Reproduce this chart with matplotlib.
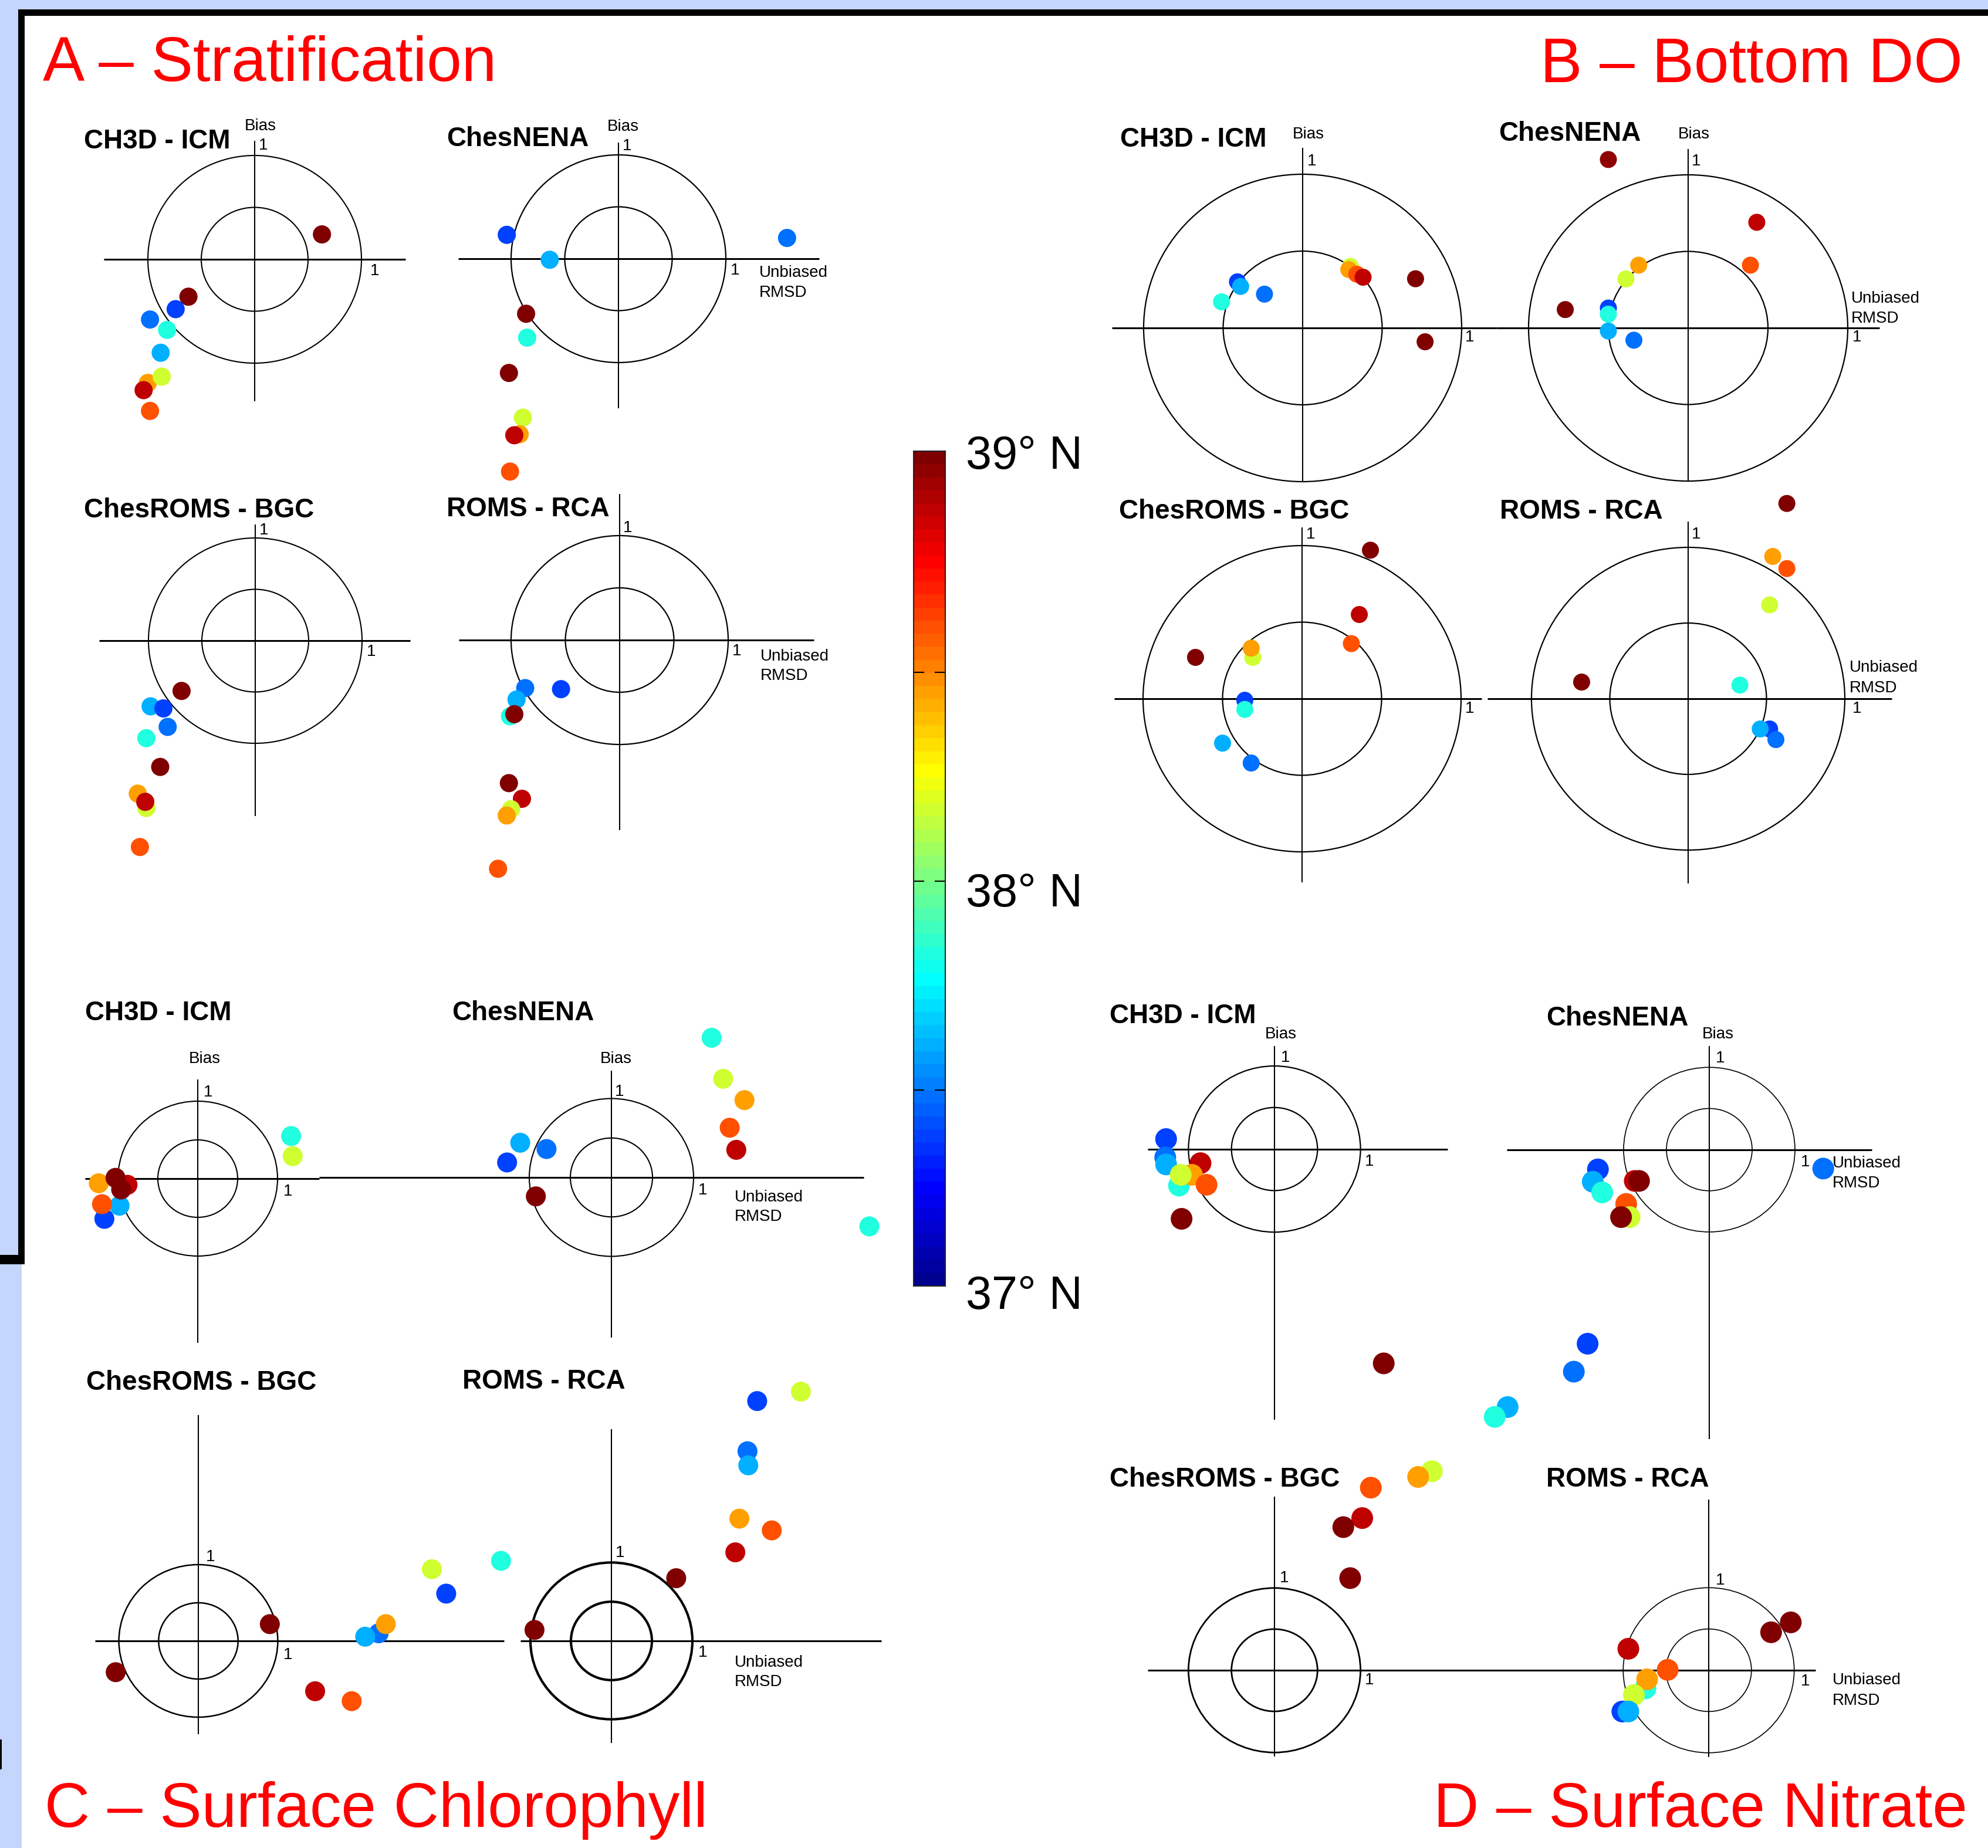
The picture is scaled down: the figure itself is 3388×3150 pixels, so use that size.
import numpy as np
import matplotlib
matplotlib.use('Agg')
import matplotlib.pyplot as plt
from matplotlib.colors import ListedColormap
from matplotlib.patches import Rectangle, Circle

W, H = 3388, 3150
plt.rcParams['font.family'] = ['Liberation Sans', 'DejaVu Sans']

# ---------------- data (target-diagram coordinates, colour = station latitude) -------------
# A - Stratification
strat_ch3d_x = [0.63, -0.62, -0.74, -0.98, -0.82, -0.88, -1.00, -0.87, -1.04, -0.98]
strat_ch3d_y = [0.24, -0.36, -0.48, -0.58, -0.68, -0.90, -1.19, -1.13, -1.26, -1.46]
strat_ch3d_lat = [38.99, 38.99, 37.36, 37.45, 37.80, 37.58, 38.42, 38.14, 38.86, 38.58]

strat_nena_x = [-1.04, 1.57, -0.64, -0.86, -0.85, -1.02, -0.89, -0.92, -0.97, -1.01]
strat_nena_y = [0.23, 0.20, -0.01, -0.53, -0.76, -1.10, -1.53, -1.69, -1.70, -2.05]
strat_nena_lat = [37.36, 37.45, 37.58, 38.99, 37.80, 38.99, 38.14, 38.42, 38.86, 38.58]

strat_croms_x = [-0.69, -0.98, -0.86, -0.82, -1.02, -0.89, -1.10, -1.02, -1.03, -1.08]
strat_croms_y = [-0.49, -0.64, -0.66, -0.84, -0.95, -1.23, -1.49, -1.63, -1.57, -2.01]
strat_croms_lat = [38.99, 37.58, 37.36, 37.45, 37.80, 38.99, 38.42, 38.14, 38.86, 38.58]

strat_rca_x = [-0.87, -0.54, -0.95, -1.01, -0.97, -1.02, -0.90, -1.00, -1.04, -1.12]
strat_rca_y = [-0.46, -0.47, -0.57, -0.73, -0.71, -1.37, -1.52, -1.62, -1.68, -2.19]
strat_rca_lat = [37.45, 37.36, 37.58, 37.80, 38.99, 38.99, 38.86, 38.14, 38.42, 38.58]

# B - Bottom DO
do_ch3d_x = [-0.41, -0.39, -0.24, -0.51, 0.30, 0.29, 0.34, 0.38, 0.71, 0.77]
do_ch3d_y = [0.30, 0.27, 0.22, 0.17, 0.40, 0.38, 0.35, 0.33, 0.32, -0.09]
do_ch3d_lat = [37.36, 37.58, 37.45, 37.80, 38.14, 38.42, 38.58, 38.86, 38.99, 38.99]

do_nena_x = [-0.50, 0.43, 0.39, -0.31, -0.39, -0.77, -0.50, -0.50, -0.50, -0.34]
do_nena_y = [1.10, 0.69, 0.41, 0.41, 0.32, 0.12, 0.13, 0.09, -0.02, -0.08]
do_nena_lat = [38.95, 38.86, 38.58, 38.42, 38.14, 38.99, 37.36, 37.80, 37.58, 37.45]

do_croms_x = [0.43, 0.36, 0.31, -0.31, -0.32, -0.67, -0.36, -0.36, -0.50, -0.32]
do_croms_y = [0.97, 0.55, 0.36, 0.27, 0.33, 0.27, -0.01, -0.07, -0.29, -0.42]
do_croms_lat = [38.99, 38.86, 38.58, 38.14, 38.42, 38.99, 37.36, 37.80, 37.58, 37.45]

do_rca_x = [0.63, 0.54, 0.63, 0.52, -0.68, 0.33, 0.52, 0.46, 0.56]
do_rca_y = [1.29, 0.94, 0.86, 0.62, 0.11, 0.09, -0.20, -0.20, -0.27]
do_rca_lat = [38.99, 38.42, 38.58, 38.14, 38.99, 37.80, 37.36, 37.58, 37.45]

# C - Surface Chlorophyll
chl_ch3d_x = [1.17, 1.19, -1.17, -0.98, -1.20, -1.24, -0.88, -0.96, -1.03]
chl_ch3d_y = [0.55, 0.29, -0.52, -0.35, -0.33, -0.06, -0.08, -0.14, 0.01]
chl_ch3d_lat = [37.80, 38.14, 37.36, 37.58, 38.58, 38.42, 38.86, 38.99, 38.99]

chl_nena_x = [1.22, 1.36, 1.62, 1.44, 1.52, -1.11, -0.79, -1.27, -0.92, 3.14]
chl_nena_y = [1.77, 1.25, 0.98, 0.63, 0.35, 0.44, 0.36, 0.19, -0.24, -0.62]
chl_nena_lat = [37.80, 38.14, 38.42, 38.58, 38.86, 37.58, 37.45, 37.36, 38.99, 37.80]

chl_croms_x = [0.90, -1.04, 1.47, 1.93, 2.27, 2.10, 2.36, 3.12, 2.94, 3.81]
chl_croms_y = [0.22, -0.41, -0.66, -0.79, 0.10, 0.055, 0.22, 0.62, 0.94, 1.05]
chl_croms_lat = [38.99, 38.99, 38.86, 38.58, 37.45, 37.58, 38.42, 37.36, 38.14, 37.80]

chl_rca_x = [-0.95, 0.80, 1.53, 1.58, 1.98, 1.68, 1.69, 1.80, 2.34]
chl_rca_y = [0.14, 0.80, 1.13, 1.56, 1.41, 2.42, 2.24, 3.06, 3.18]
chl_rca_lat = [38.99, 38.99, 38.86, 38.42, 38.58, 37.45, 37.58, 37.36, 38.14]

# D - Surface Nitrate
no3_ch3d_x = [-1.26, -1.27, -1.26, -1.11, -0.86, -0.96, -1.09, -0.79, -1.08, 1.27]
no3_ch3d_y = [0.12, -0.10, -0.185, -0.44, -0.17, -0.31, -0.31, -0.43, -0.84, -2.58]
no3_ch3d_lat = [37.36, 37.45, 37.58, 37.80, 38.86, 38.42, 38.14, 38.58, 38.99, 38.99]

no3_nena_x = [-1.30, -1.36, -1.25, -0.87, -0.82, -0.97, -0.93, -1.03, 1.33]
no3_nena_y = [-0.24, -0.39, -0.52, -0.38, -0.38, -0.66, -0.82, -0.82, -0.23]
no3_nena_lat = [37.36, 37.58, 37.80, 38.86, 38.99, 38.58, 38.14, 38.99, 37.45]

no3_croms_x = [0.88, 1.02, 0.80, 1.12, 1.83, 1.67, 3.64, 3.48, 2.71, 2.56]
no3_croms_y = [1.12, 1.85, 1.74, 2.22, 2.42, 2.35, 3.97, 3.63, 3.20, 3.08]
no3_croms_lat = [38.99, 38.86, 38.99, 38.58, 38.14, 38.42, 37.36, 37.45, 37.58, 37.80]

no3_rca_x = [0.96, 0.73, -0.94, -0.48, -0.74, -0.72, -0.875, -1.01, -0.94]
no3_rca_y = [0.58, 0.46, 0.26, 0.005, -0.22, -0.11, -0.30, -0.50, -0.50]
no3_rca_lat = [38.99, 38.99, 38.86, 38.58, 37.80, 38.42, 38.14, 37.36, 37.58]

model_names = ['CH3D - ICM', 'ChesNENA', 'ChesROMS - BGC', 'ROMS - RCA']
panel_titles = ['A \u2013 Stratification', 'B \u2013 Bottom DO',
                'C \u2013 Surface Chlorophyll', 'D \u2013 Surface Nitrate']
cbar_labels = ['39\u00b0 N', '38\u00b0 N', '37\u00b0 N']
cbar_ticks = [37.5, 38.0, 38.5]
lat_min, lat_max = 37.0, 39.0


def matlab_jet(m=64):
    n = int(np.ceil(m / 4))
    u = np.concatenate([np.arange(1, n + 1) / n, np.ones(n - 1), np.arange(n, 0, -1) / n])
    g = int(np.ceil(n / 2)) - (1 if m % 4 == 1 else 0) + np.arange(1, len(u) + 1)
    r = g + n
    b = g - n
    J = np.zeros((m, 3))
    for idx, ch in ((r, 0), (g, 1), (b, 2)):
        ok = (idx >= 1) & (idx <= m)
        J[idx[ok] - 1, ch] = u[ok]
    return ListedColormap(J)


jet = matlab_jet(64)

fig = plt.figure(figsize=(W / 100, H / 100), dpi=100)

# ---------------- page background / frame ----------------
bg = fig.add_axes([0, 0, 1, 1])
bg.set_xlim(0, W)
bg.set_ylim(H, 0)
bg.axis('off')
bg.add_patch(Rectangle((0, 0), W, H, color='#c4d6fc', lw=0))
bg.add_patch(Rectangle((37, 27), W - 37, H - 27, color='white', lw=0))
bg.add_patch(Rectangle((31, 16), W - 31, 11, color='black', lw=0))
bg.add_patch(Rectangle((31, 16), 11, 2155 - 16, color='black', lw=0))
bg.add_patch(Rectangle((0, 2139), 42, 16, color='black', lw=0))
bg.add_patch(Rectangle((0, 2965), 3, 51, color='black', lw=0))

# panel titles
red = '#ff0000'
bg.text(73, 138, panel_titles[0], color=red, fontsize=77, ha='left', va='baseline')
bg.text(3345, 140, panel_titles[1], color=red, fontsize=77, ha='right', va='baseline')
bg.text(76, 3114, panel_titles[2], color=red, fontsize=77, ha='left', va='baseline')
bg.text(3353, 3114, panel_titles[3], color=red, fontsize=77, ha='right', va='baseline')

# ---------------- subplot layout (pixels) ----------------
layout = [
    dict(d=(strat_ch3d_x, strat_ch3d_y, strat_ch3d_lat), name=0, c=(434, 442), r=(182, 177),
         h=(-1.41, 1.41), v=(-1.37, 1.14), t=(143, 253), bias=(444, 222), one_t=(441, 255),
         one_r=(631, 469), rmsd=None, ms=31, lwc=1.5),
    dict(d=(strat_nena_x, strat_nena_y, strat_nena_lat), name=1, c=(1054, 441), r=(183, 177),
         h=(-1.49, 1.87), v=(-1.44, 1.12), t=(761, 249), bias=(1062, 223), one_t=(1061, 256),
         one_r=(1245, 468), rmsd=(1294, 472, 506), ms=31, lwc=1.6),
    dict(d=(strat_croms_x, strat_croms_y, strat_croms_lat), name=2, c=(435, 1092), r=(182, 175),
         h=(-1.46, 1.45), v=(-1.71, 1.13), t=(143, 882), bias=None, one_t=(442, 911),
         one_r=(625, 1118), rmsd=None, ms=31, lwc=1.5),
    dict(d=(strat_rca_x, strat_rca_y, strat_rca_lat), name=3, c=(1056, 1091), r=(185, 178),
         h=(-1.48, 1.79), v=(-1.82, 1.40), t=(761, 880), bias=None, one_t=(1062, 907),
         one_r=(1248, 1117), rmsd=(1296, 1126, 1159), ms=31, lwc=1.6),
    dict(d=(do_ch3d_x, do_ch3d_y, do_ch3d_lat), name=0, c=(2220, 559), r=(271, 262),
         h=(-1.20, 1.22), v=(-1.0, 1.17), t=(1909, 250), bias=(2230, 236), one_t=(2228, 282),
         one_r=(2497, 582), rmsd=None, ms=29, lwc=1.6),
    dict(d=(do_nena_x, do_nena_y, do_nena_lat), name=1, c=(2877, 559), r=(272, 261),
         h=(-1.20, 1.20), v=(-1.0, 1.17), t=(2554, 240), bias=(2887, 236), one_t=(2883, 282),
         one_r=(3157, 582), rmsd=(3155, 516, 550), ms=29, lwc=1.6),
    dict(d=(do_croms_x, do_croms_y, do_croms_lat), name=2, c=(2219, 1191), r=(271, 261),
         h=(-1.18, 1.13), v=(-1.20, 1.12), t=(1907, 884), bias=None, one_t=(2226, 918),
         one_r=(2497, 1215), rmsd=None, ms=29, lwc=1.6),
    dict(d=(do_rca_x, do_rca_y, do_rca_lat), name=3, c=(2877, 1191), r=(267, 258),
         h=(-1.28, 1.30), v=(-1.22, 1.17), t=(2556, 884), bias=None, one_t=(2883, 918),
         one_r=(3157, 1215), rmsd=(3152, 1145, 1180), ms=29, lwc=1.6),
    dict(d=(chl_ch3d_x, chl_ch3d_y, chl_ch3d_lat), name=0, c=(337, 2009), r=(136, 132),
         h=(-1.41, 1.52), v=(-2.12, 1.28), t=(145, 1739), bias=(349, 1812), one_t=(347, 1869),
         one_r=(483, 2038), rmsd=None, ms=34, lwc=1.5),
    dict(d=(chl_nena_x, chl_nena_y, chl_nena_lat), name=1, c=(1042, 2007), r=(140, 134.5),
         h=(-3.56, 3.07), v=(-2.03, 1.35), t=(770, 1739), bias=(1050, 1812), one_t=(1048, 1868),
         one_r=(1190, 2036), rmsd=(1252, 2048, 2081), ms=34, lwc=1.5),
    dict(d=(chl_croms_x, chl_croms_y, chl_croms_lat), name=2, c=(338, 2797), r=(135.4, 130),
         h=(-1.30, 3.85), v=(-1.22, 2.96), t=(147, 2369), bias=None, one_t=(351, 2661),
         one_r=(483, 2828), rmsd=None, ms=34, lwc=1.8),
    dict(d=(chl_rca_x, chl_rca_y, chl_rca_lat), name=3, c=(1042, 2797), r=(138, 133.6),
         h=(-1.12, 3.33), v=(-1.30, 2.70), t=(788, 2367), bias=None, one_t=(1049, 2654),
         one_r=(1190, 2824), rmsd=(1252, 2841, 2874), ms=34, lwc=3.0),
    dict(d=(no3_ch3d_x, no3_ch3d_y, no3_ch3d_lat), name=0, c=(2172, 1958.6), r=(146.6, 141.6),
         h=(-1.47, 2.01), v=(-3.26, 1.24), t=(1891, 1744), bias=(2183, 1770), one_t=(2183, 1810),
         one_r=(2326, 1987), rmsd=None, ms=37, lwc=1.6),
    dict(d=(no3_nena_x, no3_nena_y, no3_nena_lat), name=1, c=(2913, 1959.6), r=(146, 140.3),
         h=(-2.36, 1.90), v=(-3.52, 1.26), t=(2635, 1748), bias=(2928, 1770), one_t=(2924, 1811),
         one_r=(3069, 1988), rmsd=(3123, 1990, 2024), ms=37, lwc=1.2),
    dict(d=(no3_croms_x, no3_croms_y, no3_croms_lat), name=2, c=(2172, 2847), r=(146.6, 140.2),
         h=(-1.47, 4.15), v=(-1.05, 2.11), t=(1891, 2534), bias=None, one_t=(2181, 2697),
         one_r=(2326, 2871), rmsd=None, ms=37, lwc=2.0),
    dict(d=(no3_rca_x, no3_rca_y, no3_rca_lat), name=3, c=(2912, 2847), r=(145.7, 140.7),
         h=(-1.21, 1.25), v=(-1.05, 2.07), t=(2635, 2534), bias=None, one_t=(2924, 2701),
         one_r=(3069, 2873), rmsd=(3123, 2871, 2906), ms=37, lwc=1.2),
]

E = 5.0
for L in layout:
    cx, cy = L['c']
    rx, ry = L['r']
    ax = fig.add_axes([(cx - E * rx) / W, 1 - (cy + E * ry) / H, 2 * E * rx / W, 2 * E * ry / H])
    ax.set_xlim(-E, E)
    ax.set_ylim(-E, E)
    ax.axis('off')
    ax.patch.set_visible(False)
    for rad in (1.0, 0.5):
        ax.add_patch(Circle((0, 0), rad, fill=False, lw=L['lwc'], ec='black', clip_on=False, zorder=1))
    ax.plot(L['h'], [0, 0], color='black', lw=2.2, clip_on=False, solid_capstyle='butt', zorder=1)
    ax.plot([0, 0], L['v'], color='black', lw=1.5, clip_on=False, solid_capstyle='butt', zorder=1)
    xs, ys, lats = L['d']
    ax.scatter(xs, ys, c=lats, cmap=jet, vmin=lat_min, vmax=lat_max,
               s=(L['ms'] * 0.72) ** 2, linewidths=0, clip_on=False, zorder=3)

    bg.text(L['t'][0], L['t'][1], model_names[L['name']], fontsize=33, fontweight='bold',
            ha='left', va='baseline')
    if L['bias'] is not None:
        bg.text(L['bias'][0], L['bias'][1], 'Bias', fontsize=20, ha='center', va='baseline')
    bg.text(L['one_t'][0], L['one_t'][1], '1', fontsize=20, ha='left', va='baseline')
    bg.text(L['one_r'][0], L['one_r'][1], '1', fontsize=20, ha='left', va='baseline')
    if L['rmsd'] is not None:
        x0, b1, b2 = L['rmsd']
        bg.text(x0, b1, 'Unbiased', fontsize=20, ha='left', va='baseline')
        bg.text(x0, b2, 'RMSD', fontsize=20, ha='left', va='baseline')

# ---------------- colour bar ----------------
cb_x0, cb_x1, cb_y0, cb_y1 = 1557, 1611, 769, 2192
cax = fig.add_axes([cb_x0 / W, 1 - cb_y1 / H, (cb_x1 - cb_x0) / W, (cb_y1 - cb_y0) / H])
grad = np.linspace(lat_min, lat_max, 512).reshape(-1, 1)
cax.imshow(grad, cmap=jet, vmin=lat_min, vmax=lat_max, aspect='auto', origin='lower',
           extent=[0, 1, lat_min + 0.03, lat_max + 0.03])
cax.set_xlim(0, 1)
cax.set_ylim(lat_min + 0.03, lat_max + 0.03)
cax.set_xticks([])
cax.set_yticks(cbar_ticks)
cax.tick_params(axis='y', direction='in', left=True, right=True, length=13, width=1.5,
                labelleft=False, labelright=False)
for sp in cax.spines.values():
    sp.set_linewidth(1.5)
    sp.set_color('#222222')

bg.text(1646, 799, cbar_labels[0], fontsize=57, ha='left', va='baseline')
bg.text(1646, 1545, cbar_labels[1], fontsize=57, ha='left', va='baseline')
bg.text(1646, 2231, cbar_labels[2], fontsize=57, ha='left', va='baseline')

fig.savefig('out.png', dpi=100)
